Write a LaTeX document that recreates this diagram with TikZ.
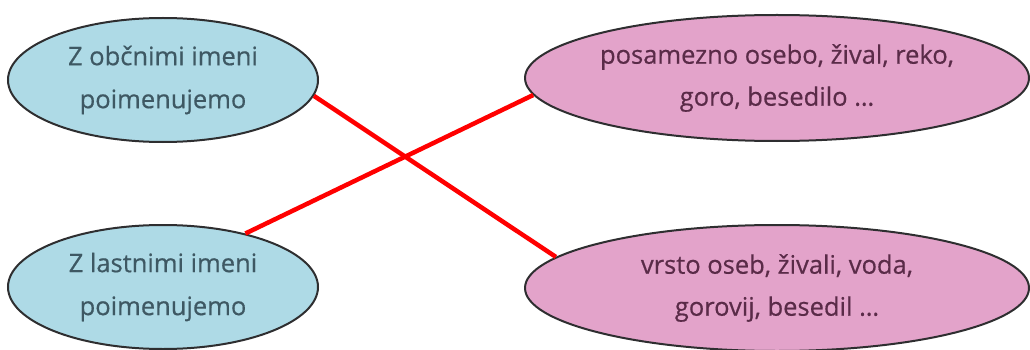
\documentclass[tikz,border=0pt]{standalone}
\usepackage{fontspec}
\setmainfont[FakeBold=0.5]{Open Sans}
\usetikzlibrary{shapes.geometric}
\definecolor{bluefill}{HTML}{AEDAE6}
\definecolor{pinkfill}{HTML}{E3A3CA}
\definecolor{bluetext}{HTML}{3E5863}
\definecolor{pinktext}{HTML}{5A2B48}
\definecolor{edge}{HTML}{2E2E30}
\definecolor{linkred}{HTML}{FF0000}
\tikzset{
  blueell/.style={ellipse, draw=edge, line width=2pt, fill=bluefill, text=bluetext,
    minimum width=310pt, minimum height=124pt, inner xsep=-40pt, inner ysep=-20pt, align=center,
    font=\fontsize{25.5}{43}\selectfont},
  pinkell/.style={ellipse, draw=edge, line width=2pt, fill=pinkfill, text=pinktext,
    minimum width=504pt, minimum height=126pt, inner xsep=-60pt, inner ysep=-20pt, align=center,
    font=\fontsize{25.5}{42}\selectfont},
  link/.style={draw=linkred, line width=4.5pt}
}
\begin{document}
\begin{tikzpicture}[x=1pt,y=-1pt]
\useasboundingbox (0,0) rectangle (1030,350);
\node[blueell] (tl) at (163,80) {Z občnimi imeni\\poimenujemo};
\node[blueell] (bl) at (163,287) {Z lastnimi imeni\\poimenujemo};
\node[pinkell] (tr) at (777,78) {posamezno osebo, žival, reko,\\goro, besedilo …};
\node[pinkell] (br) at (777,288) {vrsto oseb, živali, voda,\\gorovij, besedil …};
\draw[link] (tl.-6.5) -- (br.172.9);
\draw[link] (bl.33.5) -- (tr.184.6);
\end{tikzpicture}
\end{document}
